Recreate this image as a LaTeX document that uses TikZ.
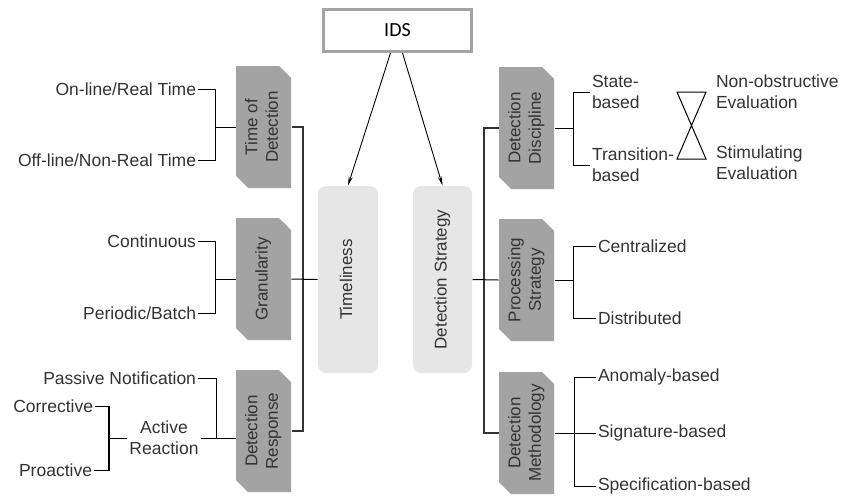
\documentclass[tikz,border=0pt]{standalone}
\usepackage{fontspec}
\usepackage{graphicx}
\setmainfont{Liberation Sans}
\newfontfamily\idsfont{Carlito}
\usetikzlibrary{shapes.misc,arrows.meta}
\definecolor{catgray}{HTML}{A3A3A3}
\definecolor{palegray}{HTML}{E6E6E6}
\definecolor{txtgray}{HTML}{333333}
\newcommand\vtxt[1]{\rotatebox{90}{\begin{tabular}{@{}c@{}}#1\end{tabular}}}
\tikzset{
  leaf/.style={inner sep=1.5pt,text=txtgray,align=left,font=\fontsize{17.5}{21}\selectfont},
  cat/.style={chamfered rectangle,chamfered rectangle corners={north east,south west},
    chamfered rectangle xsep=6pt,chamfered rectangle ysep=6pt,fill=catgray,
    minimum width=55pt,minimum height=122pt,inner sep=0pt,text=txtgray,
    font=\fontsize{17}{20.5}\selectfont},
  main/.style={fill=palegray,rounded corners=8pt,minimum width=60pt,minimum height=187pt,
    inner sep=0pt,text=txtgray,font=\fontsize{17}{20.5}\selectfont},
  spine/.style={line width=1.3pt,draw=black!80},
  arr/.style={-{Stealth[length=9pt,width=4pt]},line width=0.9pt},
}
\begin{document}
\begin{tikzpicture}[x=1pt,y=-1pt,line width=1pt]
\useasboundingbox (0,0) rectangle (842,498);
% root and the two main branches
\node (ids) at (397.5,30.5) [draw=catgray,line width=3pt,minimum width=148pt,minimum height=42pt,font=\idsfont\fontsize{20}{24}\selectfont] {IDS};
\node (time) at (348,279.5) [main] {\vtxt{Timeliness}};
\node (strat) at (442.5,279.5) [main,minimum width=59pt] {\vtxt{Detection Strategy}};
\draw[arr] ([xshift=-7pt]ids.south) -- (time.north);
\draw[arr] ([xshift=5pt]ids.south) -- (strat.north);
% timeliness side
\node (tod) at (263.5,127) [cat] {\vtxt{Time of\\Detection}};
\node (gran) at (263.5,279) [cat] {\vtxt{Granularity}};
\node (resp) at (263.5,431) [cat] {\vtxt{Detection\\Response}};
\coordinate (ls) at (303,0);
\draw[spine] (tod.east) -| (ls |- resp.east) -- (resp.east);
\draw (gran.east) -- (time.west);
\node (onl) at (198,89) [leaf,anchor=east] {On-line/Real Time};
\node (offl) at (198,160) [leaf,anchor=east] {Off-line/Non-Real Time};
\draw (tod.west) -- ++(-20,0) coordinate (todj);
\draw (onl.east) -| (todj) |- (offl.east);
\node (cont) at (198,241) [leaf,anchor=east] {Continuous};
\node (peri) at (198,313) [leaf,anchor=east] {Periodic/Batch};
\draw (gran.west) -- ++(-20,0) coordinate (granj);
\draw (cont.east) -| (granj) |- (peri.east);
\node (pas) at (198,378) [leaf,anchor=east] {Passive Notification};
\node (act) at (164,438) [leaf,align=center] {Active\\Reaction};
\draw (act.east) -- (act.east -| resp.west);
\path (act.east) ++(16,0) coordinate (respj);
\draw (pas.east) -| (respj);
\node (cor) at (95,406) [leaf,anchor=east] {Corrective};
\node (pro) at (94,470) [leaf,anchor=east] {Proactive};
\draw (act.west) -- ++(-18,0) coordinate (actj);
\draw (cor.east) -| (actj) |- (pro.east);
\draw[line width=2pt] (cor.east -| actj) -- (pro.east -| actj);
% detection strategy side
\node (disc) at (526.5,128) [cat] {\vtxt{Detection\\Discipline}};
\node (proc) at (526.5,280) [cat] {\vtxt{Processing\\Strategy}};
\node (meth) at (526.5,433) [cat] {\vtxt{Detection\\Methodology}};
\coordinate (rs) at (484,0);
\draw[spine] (disc.west) -| (rs |- meth.west) -- (meth.west);
\draw (strat.east) -- (proc.west);
\node (sta) at (590,92) [leaf,anchor=west] {State-\\based};
\node (tra) at (590,165) [leaf,anchor=west] {Transition-\\based};
\draw (disc.east) -- ++(19,0) coordinate (discj);
\draw (sta.west) -| (discj) |- (tra.west);
\node (nob) at (714,92) [leaf,anchor=west] {Non-obstructive\\Evaluation};
\node (sti) at (714,163) [leaf,anchor=west] {Stimulating\\Evaluation};
\draw (677,92) -- (706,92) -- (677,159) -- (706,159) -- cycle;
\node (cen) at (596,246) [leaf,anchor=west] {Centralized};
\node (dis) at (596,318) [leaf,anchor=west] {Distributed};
\draw (proc.east) -- ++(19,0) coordinate (procj);
\draw (cen.west) -| (procj) |- (dis.west);
\node (ano) at (596,377) [leaf,anchor=west] {Anomaly-based};
\node (sig) at (596,433) [leaf,anchor=west] {Signature-based};
\node (spe) at (596,486) [leaf,anchor=west] {Specification-based};
\draw (meth.east) -- ++(20,0) coordinate (methj);
\draw (ano.west) -| (methj) |- (spe.west);
\draw (sig.west) -- (methj);
\end{tikzpicture}
\end{document}
